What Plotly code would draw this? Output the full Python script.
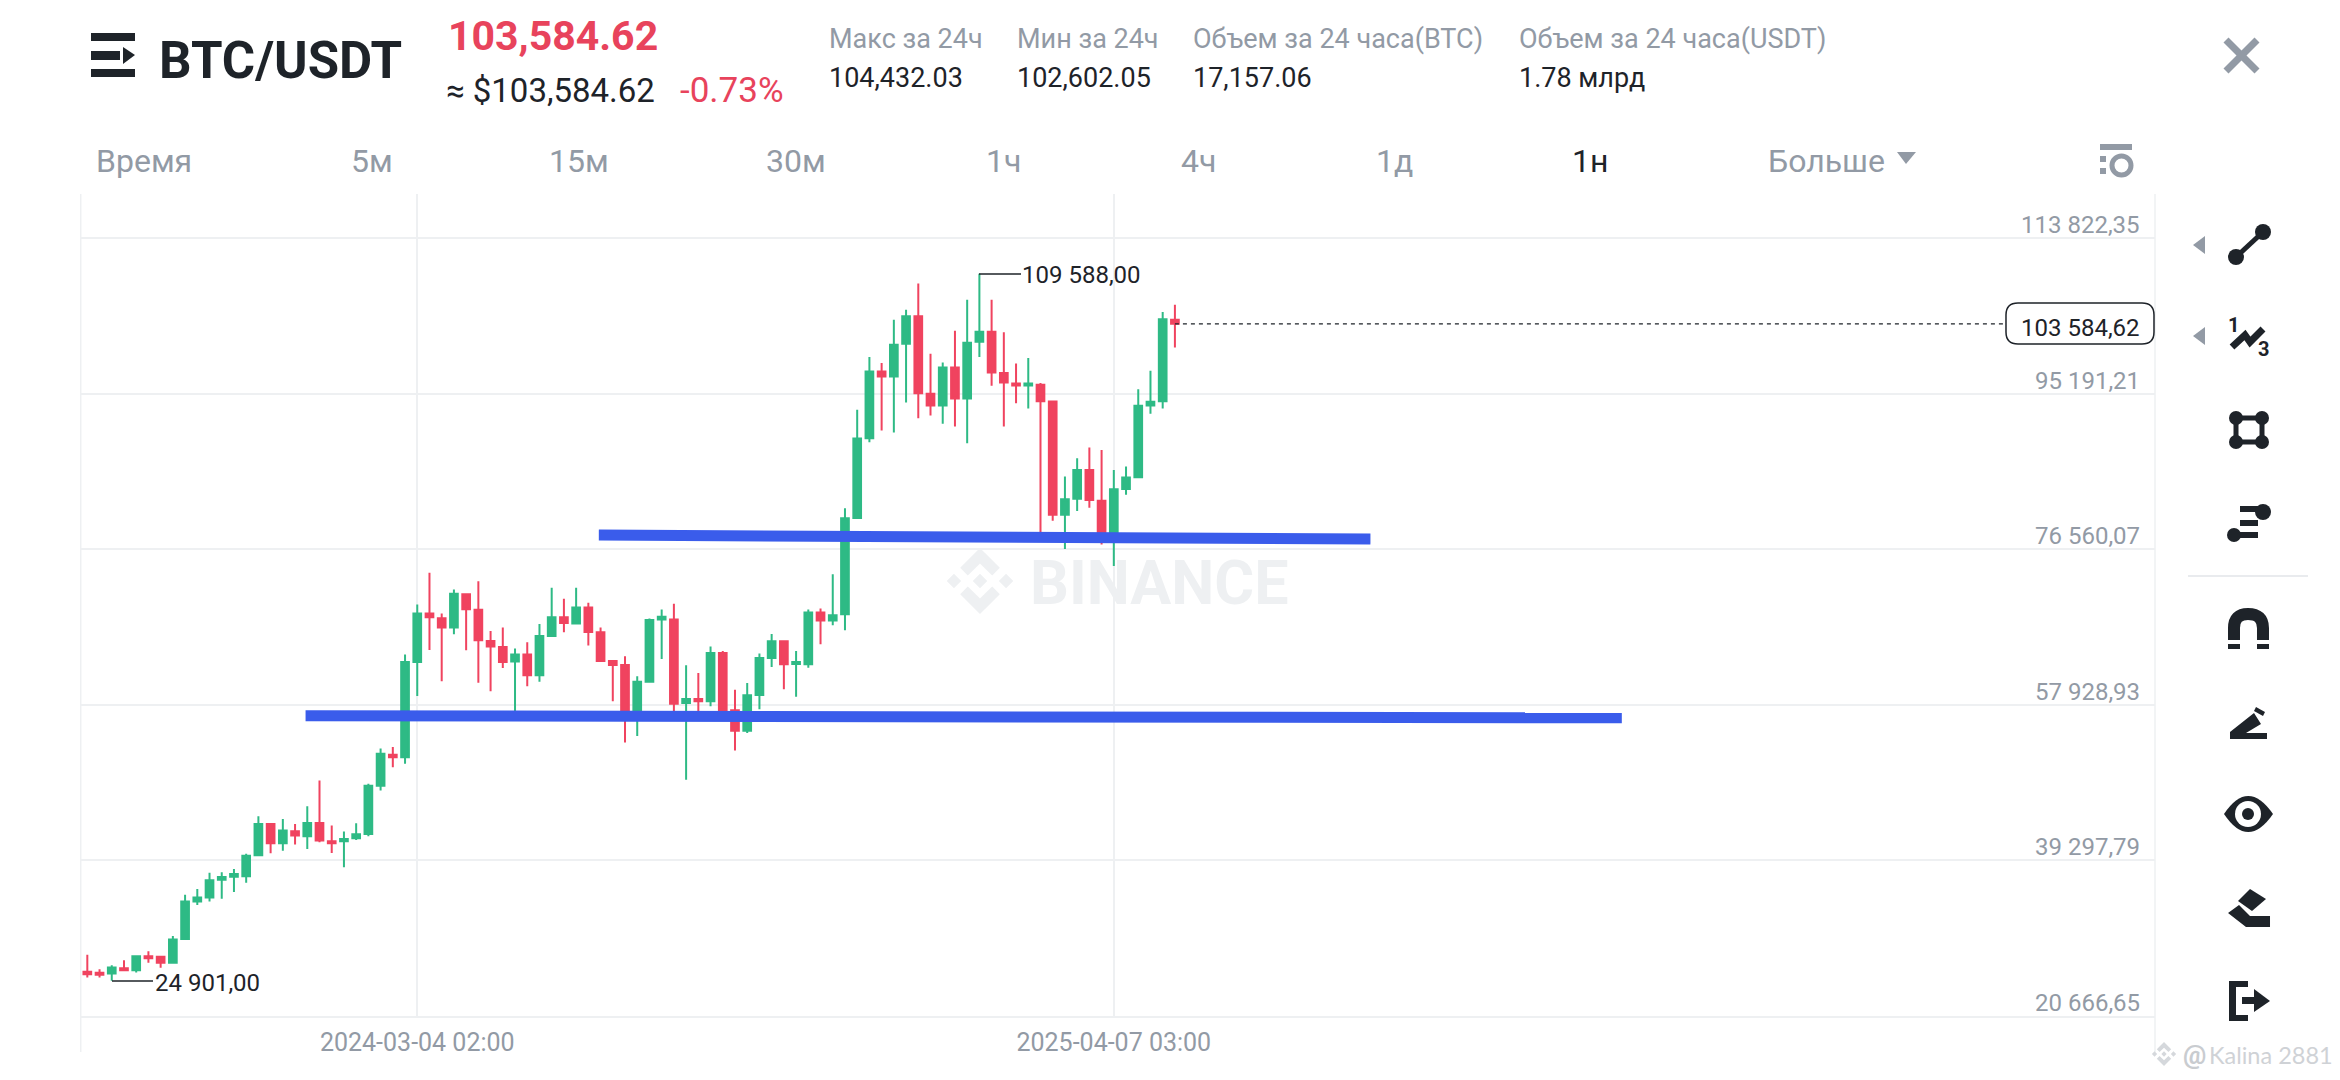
# BTC/USDT weekly chart, mobile exchange screen
import pandas as pd
import plotly.graph_objects as go

W = 2340
H = 1080

# weekly candles
dates = pd.date_range("2023-08-28", periods=90, freq="7D").strftime("%Y-%m-%d").tolist()

open_prices = [25956, 25836, 25756, 26396, 26156, 27836, 27756, 27036, 29876, 34396,
               34876, 36996, 37356, 37396, 39916, 43676, 41356, 42796, 42196, 43796,
               41596, 41596, 41956, 42476, 48236, 51956, 51676, 63076, 68876, 68316,
               67196, 71196, 69316, 65596, 64876, 63116, 63956, 61476, 66196, 68436,
               67676, 69596, 66636, 63196, 62716, 56476, 60716, 68156, 68156, 58156,
               58636, 58356, 64156, 57276, 54836, 59116, 63556, 65556, 62836, 62796,
               68996, 68036, 68796, 80316, 89876, 97876, 97276, 101196, 104476, 95196,
               93796, 98356, 94636, 101436, 102636, 97676, 96436, 96196, 96276, 94276,
               80716, 82636, 86076, 82396, 77876, 83796, 85196, 93796, 94316, 104076]
high_prices = [27996, 26276, 26756, 27356, 27916, 28436, 27836, 30236, 35196, 35876,
               37836, 37876, 38276, 40116, 44596, 43676, 44276, 43676, 45796, 48876,
               43476, 42756, 43756, 48476, 52716, 52876, 63956, 69956, 73756, 68876,
               71756, 71276, 72756, 66796, 67196, 64676, 65436, 67636, 71956, 70636,
               71956, 70156, 67196, 63276, 63756, 61356, 68276, 69356, 70036, 62676,
               61756, 64916, 64396, 59756, 60556, 64076, 66436, 65556, 64396, 69356,
               69476, 73596, 81476, 93276, 99596, 98876, 104076, 105276, 108396, 99996,
               98956, 102756, 106476, 109588, 106476, 102556, 98836, 99476, 96476, 94356,
               85276, 87476, 88756, 88476, 86076, 86476, 95756, 97956, 104996, 105876]
low_prices = [25276, 25276, 24901, 26076, 25876, 27036, 26436, 26956, 29836, 33956,
              34396, 34716, 35516, 36636, 39876, 40156, 40476, 41196, 40676, 41476,
              40196, 38476, 41756, 42196, 47676, 50476, 50876, 58996, 64516, 60756,
              66396, 64476, 60596, 59556, 62356, 56476, 60156, 60716, 66076, 66636,
              67596, 65036, 63156, 58356, 53436, 54196, 60596, 63436, 56476, 48956,
              56476, 57756, 57196, 52476, 54556, 57396, 62476, 59796, 58916, 62396,
              65196, 67476, 66876, 80236, 89396, 90796, 90556, 94156, 92276, 92596,
              91596, 91276, 89276, 99596, 96156, 91276, 94076, 93436, 78276, 79996,
              76596, 81156, 81556, 77156, 74556, 83116, 85156, 92796, 93436, 100756]
close_prices = [25676, 25596, 26476, 26156, 27836, 27596, 27036, 29836, 34396, 34876,
                36916, 37316, 37676, 39876, 43676, 41356, 42876, 42276, 43796, 41676,
                41356, 41876, 42436, 48236, 52076, 51676, 63076, 68876, 68436, 67196,
                71236, 69396, 65676, 64916, 63076, 63956, 61476, 66196, 68436, 67756,
                69596, 66676, 63196, 62716, 56476, 60716, 68116, 68476, 58076, 58636,
                58356, 64156, 57276, 54836, 59076, 63556, 65556, 62796, 63076, 68996,
                68036, 68676, 80276, 89836, 97876, 97276, 101076, 104476, 95276, 93796,
                98356, 94636, 101316, 102636, 97756, 96556, 96196, 96436, 94316, 80716,
                82556, 86076, 82476, 78076, 83756, 85156, 93756, 94236, 104116, 103584.62]

# hand drawn support lines
upper_line_x = ["2024-06-16", "2025-09-01"]
upper_line_y = [78273, 77806]
lower_line_x = ["2023-12-31", "2026-01-23"]
lower_line_y = [56625, 56386]

last_price = 103584.62
last_line_x = [dates[-1], "2026-08-31"]

price_ticks = [113822.35, 95191.21, 76560.07, 57928.93, 39297.79, 20666.65]
price_labels = ["113 822,35", "95 191,21", "76 560,07", "57 928,93", "39 297,79", "20 666,65"]
time_ticks = ["2024-03-04", "2025-04-07"]
time_labels = ["2024-03-04 02:00", "2025-04-07 03:00"]

tab_names = ["5м", "15м", "30м", "1ч", "4ч", "1д", "1н"]
tab_x = [372, 579, 796, 1003, 1198, 1394, 1590]

stat_names = ["Макс за 24ч", "Мин за 24ч", "Объем за 24 часа(BTC)", "Объем за 24 часа(USDT)"]
stat_values = ["104,432.03", "102,602.05", "17,157.06", "1.78 млрд"]
stat_x = [828, 1016, 1192, 1518]

GREEN = "#2EBA85"
RED = "#F0435F"
BLUE = "#3A5CEB"
DARK = "#1E2329"
GREY = "#929AA5"
GRID = "#EEF0F2"
FONT = "Roboto"


def px(x):
    return x / W


def py(y):
    return 1 - y / H


def path(points, color, layer="above"):
    # closed polygon, points in screen pixels
    d = " ".join(("M" if i == 0 else "L") + f"{px(x):.5f},{py(y):.5f}" for i, (x, y) in enumerate(points)) + " Z"
    return dict(type="path", xref="paper", yref="paper", path=d, layer=layer,
                fillcolor=color, line=dict(color=color, width=0))


def curve(d_points, color, width, fill="rgba(0,0,0,0)"):
    # path from (cmd, x, y, ...) groups, screen pixels
    parts = []
    for part in d_points:
        vals = part[1:]
        coords = [f"{px(vals[j]):.5f},{py(vals[j + 1]):.5f}" for j in range(0, len(vals), 2)]
        parts.append(part[0] + " ".join(coords))
    return dict(type="path", xref="paper", yref="paper", path=" ".join(parts),
                fillcolor=fill, line=dict(color=color, width=width))


def seg(x0, y0, x1, y1, color=DARK, width=4, layer="above"):
    return dict(type="line", xref="paper", yref="paper", layer=layer,
                x0=px(x0), y0=py(y0), x1=px(x1), y1=py(y1),
                line=dict(color=color, width=width))


def rect(x0, y0, x1, y1, color=DARK):
    return dict(type="rect", xref="paper", yref="paper",
                x0=px(x0), y0=py(y0), x1=px(x1), y1=py(y1),
                fillcolor=color, line=dict(width=0))


def dot(cx, cy, r, color=DARK):
    return dict(type="circle", xref="paper", yref="paper",
                x0=px(cx - r), y0=py(cy - r), x1=px(cx + r), y1=py(cy + r),
                fillcolor=color, line=dict(width=0))


def label(x, y, text, size, color=DARK, anchor="left", bold=False, font=FONT):
    if bold:
        text = f"<b>{text}</b>"
    return dict(xref="paper", yref="paper", x=px(x), y=py(y), text=text, showarrow=False,
                xanchor=anchor, yanchor="middle", align=anchor,
                font=dict(family=font, size=size, color=color),
                borderpad=0)


def binance_logo(cx, cy, s, color):
    # s is half of the logo height
    out = []
    for dx in (0, -0.79, 0.79):
        x = cx + dx * s
        r = 0.22 * s
        out.append(path([(x - r, cy), (x, cy - r), (x + r, cy), (x, cy + r)], color, layer="below"))
    for sign in (-1, 1):
        out.append(path([(cx, cy + sign * s), (cx + 0.6 * s, cy + sign * 0.4 * s),
                         (cx + 0.37 * s, cy + sign * 0.17 * s), (cx, cy + sign * 0.53 * s),
                         (cx - 0.37 * s, cy + sign * 0.17 * s), (cx - 0.6 * s, cy + sign * 0.4 * s)],
                        color, layer="below"))
    return out


shapes = []
annotations = []

# chart frame
shapes.append(seg(80.7, 194, 80.7, 1052, GRID, 1.5, layer="below"))
shapes.append(seg(2155, 194, 2155, 1052, GRID, 1.5, layer="below"))

# watermark
shapes += binance_logo(980, 581, 33, GRID)
annotations.append(label(1159, 583, "BINANCE", 61, GRID, "center", bold=True))

# header
shapes.append(rect(91, 33, 135, 41))
shapes.append(rect(91, 51, 120, 60))
shapes.append(path([(123, 47), (135, 55), (123, 64)], DARK))
shapes.append(rect(91, 69, 135, 77))
annotations.append(label(158, 60, "BTC/USDT", 51, DARK, bold=True))
annotations.append(label(447, 36, "103,584.62", 41, "#E8435C", bold=True))
annotations.append(label(445, 90, "≈ $103,584.62", 33, DARK))
annotations.append(label(679, 90, "-0.73%", 35, "#E8435C"))
for name, value, x in zip(stat_names, stat_values, stat_x):
    annotations.append(label(x, 39, name, 27, GREY))
    annotations.append(label(x, 78, value, 27, DARK))
shapes.append(seg(2226, 40, 2257, 71, GREY, 7))
shapes.append(seg(2257, 40, 2226, 71, GREY, 7))

# interval tabs
annotations.append(label(95, 161, "Время", 32, GREY))
for name, x in zip(tab_names, tab_x):
    annotations.append(label(x, 161, name, 32, DARK if name == "1н" else GREY, "center"))
annotations.append(label(1767, 161, "Больше", 32, GREY))
shapes.append(path([(1897, 152), (1916, 152), (1906, 164)], GREY))
shapes.append(rect(2100, 144, 2132, 150, GREY))
shapes.append(rect(2100, 156, 2106, 162, GREY))
shapes.append(rect(2100, 168, 2106, 174, GREY))
shapes.append(dict(type="circle", xref="paper", yref="paper", x0=px(2112), y0=py(156), x1=px(2131), y1=py(175),
                   fillcolor="white", line=dict(color=GREY, width=5)))

# price axis labels
for value, text in zip(price_ticks, price_labels):
    annotations.append(dict(xref="paper", yref="y", x=px(2142), y=value, yshift=-3, text=text, showarrow=False,
                            xanchor="right", yanchor="bottom", font=dict(family=FONT, size=24, color=GREY)))

# current price tag
r = 12
shapes.append(curve([("M", 2006 + r, 303), ("L", 2154 - r, 303), ("Q", 2154, 303, 2154, 303 + r),
                     ("L", 2154, 344 - r), ("Q", 2154, 344, 2154 - r, 344), ("L", 2006 + r, 344),
                     ("Q", 2006, 344, 2006, 344 - r), ("L", 2006, 303 + r), ("Q", 2006, 303, 2006 + r, 303)],
                    DARK, 1.5))
annotations.append(label(2080, 328, "103 584,62", 24, DARK, "center"))

# high and low marks
shapes.append(seg(979, 274, 1021, 274, DARK, 1.5))
annotations.append(label(1021, 275, "109 588,00", 24, DARK))
shapes.append(seg(112, 981, 153, 981, DARK, 1.5))
annotations.append(label(154, 983, "24 901,00", 24, DARK))

# drawing tools
for y in (245, 336):
    shapes.append(path([(2193, y), (2205, y - 9), (2205, y + 9)], GREY))
shapes += [seg(2236, 257, 2263, 232, DARK, 5), dot(2236, 257, 8), dot(2263, 232, 8)]

shapes.append(curve([("M", 2232, 347), ("L", 2245, 335), ("L", 2250, 342), ("L", 2263, 329)], DARK, 7))
annotations.append(label(2233, 325, "1", 20, DARK, "center", bold=True))
annotations.append(label(2263, 349, "3", 20, DARK, "center", bold=True))

shapes.append(dict(type="rect", xref="paper", yref="paper", x0=px(2236), y0=py(418), x1=px(2262), y1=py(442),
                   line=dict(color=DARK, width=5)))
for x, y in [(2236, 418), (2262, 418), (2236, 442), (2262, 442)]:
    shapes.append(dot(x, y, 7))

shapes += [rect(2240, 506, 2258, 512), rect(2240, 520, 2258, 526), rect(2234, 532, 2258, 538),
           dot(2234, 535, 7), dot(2263, 512, 8)]

shapes.append(curve([("M", 2234, 640), ("L", 2234, 628), ("Q", 2234, 614, 2248, 614),
                     ("Q", 2263, 614, 2263, 628), ("L", 2263, 640)], DARK, 12))
shapes += [rect(2228, 644, 2240, 649), rect(2257, 644, 2269, 649)]

shapes.append(path([(2230, 732), (2230, 739), (2267, 739), (2267, 733), (2246, 733), (2261, 724), (2254, 713)], DARK))
shapes.append(path([(2256, 707), (2265, 712), (2263, 716), (2254, 711)], DARK))

shapes.append(curve([("M", 2224, 814), ("Q", 2248, 778, 2273, 814), ("Q", 2248, 850, 2224, 814), ("Z",)], DARK, 0, DARK))
shapes += [dot(2248, 814, 13, "white"), dot(2248, 814, 6)]

shapes.append(path([(2250, 889), (2266, 899), (2252, 911), (2238, 901)], DARK))
shapes.append(path([(2228, 913), (2239, 905), (2250, 916), (2270, 916), (2270, 927), (2246, 927)], DARK))

shapes += [rect(2229, 981, 2248, 987), rect(2229, 1015, 2248, 1021), rect(2229, 981, 2236, 1021),
           rect(2242, 997, 2256, 1004), path([(2254, 989), (2270, 1001), (2254, 1012)], DARK)]
shapes.append(seg(2188, 576, 2308, 576, "#E9EBEE", 2))

# footer mark
shapes += binance_logo(2164, 1054, 12, "#D5D8DC")
annotations.append(label(2182, 1055, "@", 26, "#C9CCD0", bold=True))
annotations.append(label(2208, 1055, "Kalina 2881", 23.5, "#CFD2D6", font="Lato"))

fig = go.Figure()
fig.add_trace(go.Candlestick(x=dates, open=open_prices, high=high_prices, low=low_prices, close=close_prices,
                             increasing=dict(line=dict(color=GREEN, width=2), fillcolor=GREEN),
                             decreasing=dict(line=dict(color=RED, width=2), fillcolor=RED),
                             whiskerwidth=0, showlegend=False))
fig.add_trace(go.Scatter(x=last_line_x, y=[last_price, last_price], mode="lines",
                         line=dict(color=DARK, width=1.2, dash="4px,4px"), showlegend=False))
fig.add_trace(go.Scatter(x=upper_line_x, y=upper_line_y, mode="lines",
                         line=dict(color=BLUE, width=11), showlegend=False))
fig.add_trace(go.Scatter(x=lower_line_x, y=lower_line_y, mode="lines",
                         line=dict(color=BLUE, width=11), showlegend=False))

fig.update_layout(width=W, height=H, autosize=False, margin=dict(l=0, r=0, t=0, b=0),
                  paper_bgcolor="white", plot_bgcolor="white", showlegend=False,
                  boxgap=0.3, boxgroupgap=0.1,
                  shapes=shapes, annotations=annotations, font=dict(family=FONT))
fig.update_xaxes(domain=[px(80.7), px(2155)], type="date",
                 range=["2023-08-24 05:00", "2026-11-24 10:00"],
                 rangeslider_visible=False,
                 tickmode="array", tickvals=time_ticks, ticktext=time_labels,
                 tickfont=dict(family=FONT, size=25, color=GREY), ticks="", ticklabelstandoff=3,
                 showgrid=True, gridcolor=GRID, gridwidth=1.5, showline=True, linecolor=GRID, linewidth=1.5,
                 zeroline=False)
fig.update_yaxes(domain=[py(1016), py(194)], range=[20666.65, 119130],
                 tickmode="array", tickvals=price_ticks, showticklabels=False, ticks="",
                 showgrid=True, gridcolor=GRID, gridwidth=1.5, zeroline=False)

# page margin would shift everything by 8px
fig.write_html("out.html", config={"displayModeBar": False}, post_script="document.body.style.margin='0';")
